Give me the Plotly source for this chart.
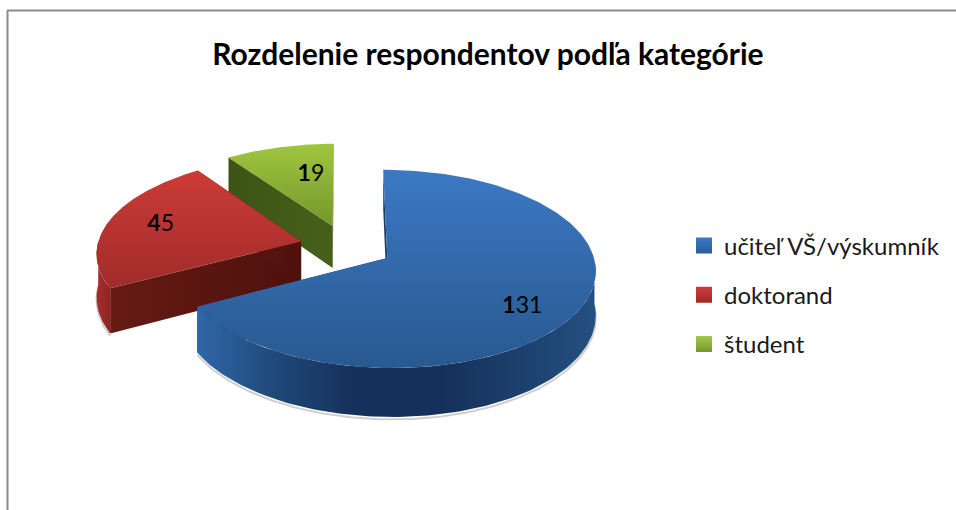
import numpy as np
import plotly.graph_objects as go

categories = ["učiteľ VŠ/výskumník", "doktorand", "študent"]
values = [131, 45, 19]
label_texts = ["<b>1</b>31", "<b>4</b>5", "<b>1</b>9"]
title_text = "Rozdelenie respondentov podľa kategórie"

# styling per slice
top_colors = [("#3c78c4", "#28598f"), ("#cc3b37", "#a02c2a"), ("#a0c63e", "#74962c")]
wall_colors = [["#3067a8", "#1f4878", "#15305a", "#15305a", "#1c3f6c", "#24507f"],
               ["#a82e2c", "#8c2422"],
               ["#6d8a2a", "#4a6420"]]
radial_colors = [("#1f4470", "#1a3a62"), ("#4e110c", "#661a14"), ("#46601c", "#3c5414")]
swatch_colors = [("#3c78c4", "#2a5c9c"), ("#d03c38", "#9c2c2a"), ("#a4c848", "#76962e")]
label_fx = [0.71, 0.73, 0.40]
label_fy = [0.92, 0.78, 0.62]

# pie projection constants
EXPLODE = 0.23
CX, CY = 346.5, 246.5
FX, FY = 204.0, 95.4
P = 0.109
H = 43.0


def project(X, Y, z=0.0):
    w = 1 - P * np.asarray(Y)
    return CX + FX * np.asarray(X) / w, CY + (FY * np.asarray(Y) + H * z) / w


fig = go.Figure()
total = sum(values)
fractions = np.array(values) / total
starts = np.concatenate([[0], np.cumsum(fractions)[:-1]]) * 2 * np.pi
ends = np.cumsum(fractions) * 2 * np.pi
label_x, label_y = [], []

common = dict(mode="lines", hoverinfo="skip", showlegend=False, fill="toself")
order = [2, 1, 0]
for i in order:
    a0, a1 = starts[i], ends[i]
    mid = (a0 + a1) / 2
    ox, oy = EXPLODE * np.sin(mid), -EXPLODE * np.cos(mid)
    t = np.linspace(a0, a1, 200)
    rx, ry = ox + np.sin(t), oy - np.cos(t)
    xa, ya = project(rx, ry)

    # radial walls, from each rim end to the slice tip
    for ex, ey in ((rx[0], ry[0]), (rx[-1], ry[-1])):
        s = np.array([0.0, 1.0])
        wx, wy = ox + (ex - ox) * s, oy + (ey - oy) * s
        xa2, ya2 = project(wx, wy)
        xb2, yb2 = project(wx, wy, 1)
        fig.add_trace(go.Scatter(
            x=np.concatenate([xa2, xb2[::-1]]), y=np.concatenate([ya2, yb2[::-1]]),
            line=dict(width=0, color=radial_colors[i][0]),
            fillgradient=dict(type="horizontal",
                              colorscale=[[0, radial_colors[i][1]], [1, radial_colors[i][0]]]),
            **common))

    # outer wall: only the part of the rim that faces the viewer
    front = np.cos(t) <= 0
    if front.any():
        cols = wall_colors[i]
        xf, yf = project(rx[front], ry[front])
        xg, yg = project(rx[front], ry[front], 1)
        xs, ys = project(rx[front], ry[front], 1.05)
        fig.add_trace(go.Scatter(x=xs, y=ys, mode="lines", hoverinfo="skip", showlegend=False,
                                 line=dict(color="#cfcfcf", width=2)))
        fig.add_trace(go.Scatter(
            x=np.concatenate([xf, xg[::-1]]), y=np.concatenate([yf, yg[::-1]]),
            line=dict(width=0, color=cols[0]),
            fillgradient=dict(type="horizontal",
                              colorscale=[[k / (len(cols) - 1), c] for k, c in enumerate(cols)]),
            **common))

    # top face (colorscale runs from the bottom of the shape to its top)
    ax, ay = project(ox, oy)
    fig.add_trace(go.Scatter(
        x=np.concatenate([[ax], xa, [ax]]), y=np.concatenate([[ay], ya, [ay]]),
        line=dict(width=0, color=top_colors[i][0]),
        fillgradient=dict(type="vertical",
                          colorscale=[[0, top_colors[i][1]], [1, top_colors[i][0]]]),
        **common))

    lx, ly = project(ox + label_fx[i] * np.sin(mid), oy - label_fy[i] * np.cos(mid))
    label_x.append(float(lx))
    label_y.append(float(ly))

fig.add_trace(go.Scatter(
    x=label_x, y=label_y, text=[label_texts[i] for i in order], mode="text",
    textposition="middle center", hoverinfo="skip", showlegend=False,
    textfont=dict(family="Lato, Carlito, sans-serif", size=23, color="#000000")))

for i, name in enumerate(categories):
    fig.add_trace(go.Scatter(
        x=[None], y=[None], mode="markers", name=name, legendgroup=name,
        marker=dict(symbol="square", size=16, color=swatch_colors[i][0],
                    gradient=dict(type="vertical", color=swatch_colors[i][1]))))

fig.update_layout(
    width=956, height=510, autosize=False,
    margin=dict(l=0, r=0, t=0, b=0),
    paper_bgcolor="#ffffff", plot_bgcolor="#ffffff",
    xaxis=dict(range=[0, 956], visible=False, fixedrange=True),
    yaxis=dict(range=[510, 0], visible=False, fixedrange=True),
    title=dict(text=f"<b>{title_text}</b>", x=488 / 956, xanchor="center",
               y=1 - 54 / 510, yanchor="middle",
               font=dict(family="Lato, Carlito, sans-serif", size=30, color="#000000")),
    legend=dict(x=684 / 956, y=1 - 295 / 510, xanchor="left", yanchor="middle",
                bgcolor="rgba(0,0,0,0)", borderwidth=0, tracegroupgap=15, itemwidth=30,
                font=dict(family="Lato, Carlito, sans-serif", size=24, color="#1a1a1a")),
    shapes=[
        dict(type="line", xref="x", yref="y", x0=7.5, x1=7.5, y0=10.5, y1=510,
             line=dict(color="#8c8c8c", width=2)),
        dict(type="line", xref="x", yref="y", x0=7, x1=956, y0=10.5, y1=10.5,
             line=dict(color="#8c8c8c", width=2)),
    ],
)

fig.write_html("out.html", config={"displayModeBar": False},
               post_script="document.body.style.margin='0';document.body.style.overflow='hidden';")
